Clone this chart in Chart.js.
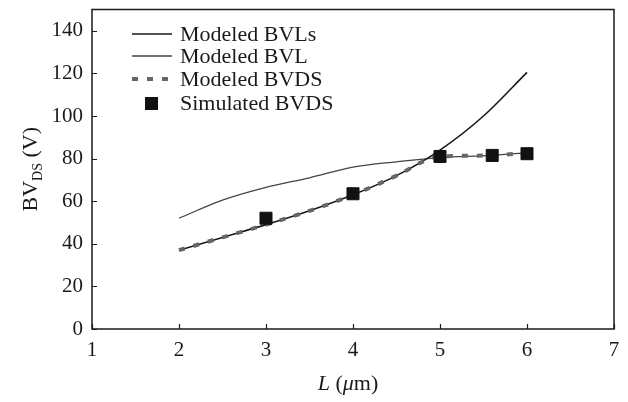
<!DOCTYPE html>
<html>
<head>
<meta charset="utf-8">
<script src="https://cdn.jsdelivr.net/npm/chart.js@4"></script>
<style>
  html, body { margin: 0; padding: 0; background: #fff; }
  #wrap { width: 628px; height: 402px; }
</style>
</head>
<body>
<div id="wrap"><canvas id="chart" width="628" height="402"></canvas></div>
<script>
// values (L in um, BV in V)
const bvlsL = [2, 2.5, 3, 3.5, 4, 4.5, 5, 5.5, 6];
const bvlsV = [37, 43, 49, 55.5, 63, 72, 84, 100, 120.5];

const bvlL = [2, 2.5, 3, 3.5, 4, 4.5, 5, 5.6, 6];
const bvlV = [52, 60.5, 66.5, 71, 76, 78.5, 80.5, 81.5, 82.8];

const bvdsL = [2, 2.5, 3, 3.5, 4, 4.5, 4.9, 5, 5.6, 6];
const bvdsV = [37, 43, 49, 55.5, 63, 72, 80.3, 81, 81.5, 82.8];

const simL = [3, 4, 5, 5.6, 6];
const simV = [52, 63.5, 81, 81.5, 82.3];

const xTicks = [1, 2, 3, 4, 5, 6, 7];
const yTicks = [0, 20, 40, 60, 80, 100, 120, 140];

const FONT = "'Liberation Serif', 'Times New Roman', serif";
const pts = (xs, ys) => xs.map((x, i) => ({ x: x, y: ys[i] }));

// frame, inward tick marks, axis titles and legend
const extras = {
    id: "extras",
    afterDraw(chart) {
        const ctx = chart.ctx;
        const a = chart.chartArea;
        const sx = chart.scales.x, sy = chart.scales.y;
        ctx.save();
        ctx.strokeStyle = "#1a1a1a";
        ctx.lineWidth = 1.5;
        ctx.strokeRect(a.left, a.top, a.right - a.left, a.bottom - a.top);

        ctx.lineWidth = 1.2;
        ctx.beginPath();
        xTicks.forEach(v => {
            const px = Math.round(sx.getPixelForValue(v)) + 0.5;
            ctx.moveTo(px, a.bottom);
            ctx.lineTo(px, a.bottom - 5);
        });
        yTicks.forEach(v => {
            const py = Math.round(sy.getPixelForValue(v)) + 0.5;
            ctx.moveTo(a.left, py);
            ctx.lineTo(a.left + 5, py);
        });
        ctx.stroke();

        // y title: BV_DS (V)
        ctx.fillStyle = "#1a1a1a";
        ctx.textBaseline = "alphabetic";
        ctx.save();
        ctx.translate(37, (a.top + a.bottom) / 2);
        ctx.rotate(-Math.PI / 2);
        const big = "22px " + FONT, small = "14px " + FONT;
        ctx.font = big; const w1 = ctx.measureText("BV").width;
        ctx.font = small; const w2 = ctx.measureText("DS").width;
        ctx.font = big; const w3 = ctx.measureText(" (V)").width;
        let x0 = -(w1 + w2 + w3) / 2;
        ctx.font = big; ctx.fillText("BV", x0, 0); x0 += w1;
        ctx.font = small; ctx.fillText("DS", x0, 5); x0 += w2;
        ctx.font = big; ctx.fillText(" (V)", x0, 0);
        ctx.restore();

        // x title: L (μm)
        const parts = [["L", true], [" (", false], ["μ", true], ["m)", false]];
        let tw = 0;
        parts.forEach(p => { ctx.font = (p[1] ? "italic " : "") + "22px " + FONT; tw += ctx.measureText(p[0]).width; });
        let xx = 348 - tw / 2;
        parts.forEach(p => {
            ctx.font = (p[1] ? "italic " : "") + "22px " + FONT;
            ctx.fillText(p[0], xx, 390);
            xx += ctx.measureText(p[0]).width;
        });

        // legend
        const rows = [34, 56, 79, 103];
        chart.data.datasets.forEach((ds, i) => {
            const y = rows[i];
            if (ds.showLine === false) {
                ctx.fillStyle = ds.backgroundColor;
                ctx.fillRect(145, y - 6, 13, 13);
            } else {
                ctx.strokeStyle = ds.borderColor;
                ctx.lineWidth = ds.borderWidth;
                ctx.setLineDash(ds.borderDash || []);
                ctx.beginPath();
                ctx.moveTo(132, y);
                ctx.lineTo(172, y);
                ctx.stroke();
                ctx.setLineDash([]);
            }
            ctx.fillStyle = "#1a1a1a";
            ctx.font = "22px " + FONT;
            ctx.textBaseline = "middle";
            ctx.fillText(ds.label, 180, y + 1);
        });
        ctx.restore();
    }
};

new Chart(document.getElementById("chart"), {
    type: "line",
    data: {
        datasets: [
            { label: "Modeled BVLs", data: pts(bvlsL, bvlsV), borderColor: "#1a1a1a", borderWidth: 1.6,
              pointRadius: 0, cubicInterpolationMode: "monotone", order: 2 },
            { label: "Modeled BVL", data: pts(bvlL, bvlV), borderColor: "#444", borderWidth: 1.3,
              pointRadius: 0, cubicInterpolationMode: "monotone", order: 3 },
            { label: "Modeled BVDS", data: pts(bvdsL, bvdsV), borderColor: "#666", borderWidth: 4,
              borderDash: [6, 9], borderCapStyle: "butt", pointRadius: 0, cubicInterpolationMode: "monotone", order: 1 },
            { label: "Simulated BVDS", data: pts(simL, simV), showLine: false, backgroundColor: "#111",
              borderColor: "#111", borderWidth: 1, pointStyle: "rect", pointRadius: 8.5, order: 0 }
        ]
    },
    options: {
        responsive: false,
        animation: false,
        layout: { padding: { top: 9, right: 14, left: 0, bottom: 0 } },
        plugins: { legend: { display: false }, tooltip: { enabled: false } },
        scales: {
            x: {
                type: "linear", min: 1, max: 7,
                grid: { display: false, drawTicks: false }, border: { display: false },
                ticks: { stepSize: 1, padding: 9, color: "#1a1a1a", font: { family: FONT, size: 21 } },
                afterFit(s) { s.height = 73; s.paddingLeft = 0; s.paddingRight = 0; }
            },
            y: {
                type: "linear", min: 0, max: 150,
                grid: { display: false, drawTicks: false }, border: { display: false },
                ticks: { stepSize: 20, includeBounds: false, padding: 9, color: "#1a1a1a", font: { family: FONT, size: 21 } },
                afterFit(s) { s.width = 92; s.paddingTop = 0; s.paddingBottom = 0; }
            }
        }
    },
    plugins: [extras]
});
</script>
</body>
</html>
